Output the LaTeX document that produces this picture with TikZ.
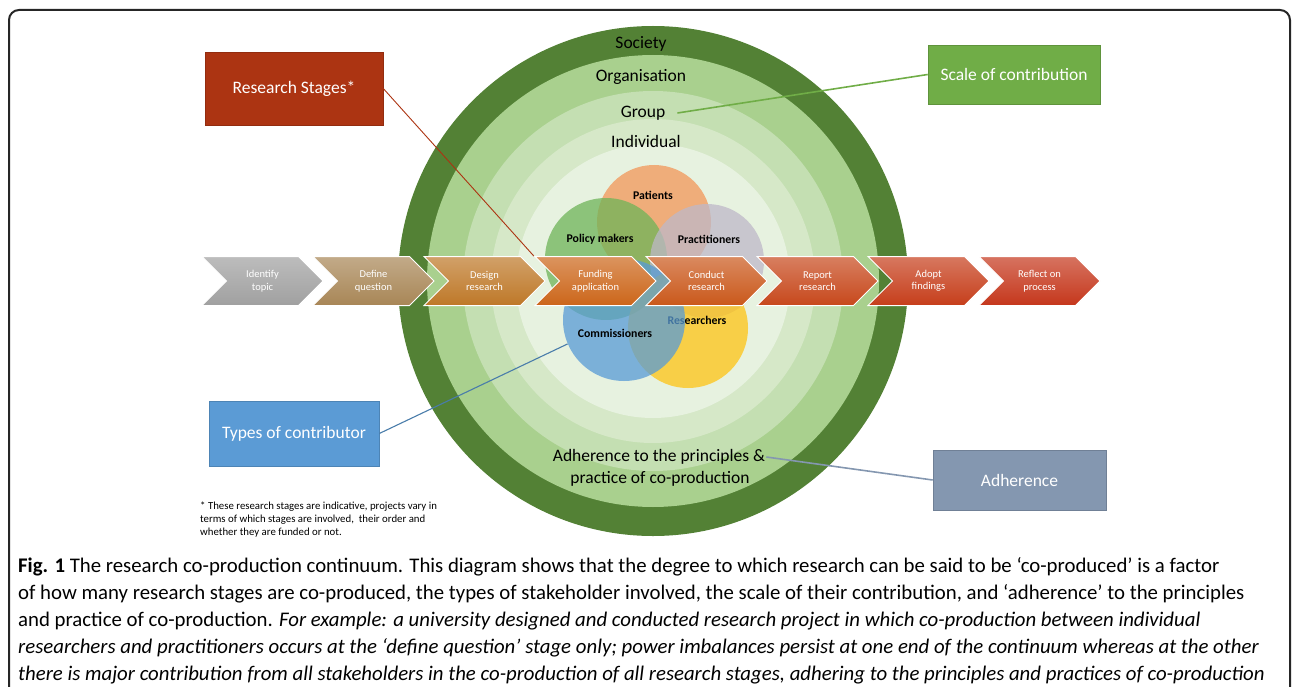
\documentclass[tikz,border=0pt]{standalone}
\usepackage{fontspec}
\setmainfont{Carlito}
\usetikzlibrary{shapes.symbols}

\definecolor{ringA}{RGB}{83,129,53}
\definecolor{ringB}{RGB}{169,208,142}
\definecolor{ringC}{RGB}{196,223,178}
\definecolor{ringD}{RGB}{214,232,200}
\definecolor{ringE}{RGB}{231,242,224}
\definecolor{stageA}{RGB}{160,160,160}
\definecolor{stageB}{RGB}{168,134,86}
\definecolor{stageC}{RGB}{190,120,40}
\definecolor{stageD}{RGB}{204,102,26}
\definecolor{stageE}{RGB}{202,88,27}
\definecolor{stageF}{RGB}{199,72,28}
\definecolor{stageG}{RGB}{198,62,27}
\definecolor{stageH}{RGB}{197,55,28}
\definecolor{patientcol}{RGB}{242,150,88}
\definecolor{policycol}{RGB}{110,180,88}
\definecolor{practcol}{RGB}{190,184,200}
\definecolor{commcol}{RGB}{88,155,214}
\definecolor{rescol}{RGB}{255,196,20}
\definecolor{stagesbox}{RGB}{172,52,18}
\definecolor{scalebox}{RGB}{112,173,71}
\definecolor{typesbox}{RGB}{91,155,213}
\definecolor{adherebox}{RGB}{132,151,176}

\tikzset{
  stage/.style={signal, signal from=west, signal to=east, draw=white, line width=1pt,
    minimum width=121pt, minimum height=49pt, inner sep=0pt, align=center, text=white,
    top color=#1!70!white, bottom color=#1, font=\fontsize{10.5}{12.5}\selectfont},
  party/.style={circle, inner sep=0pt, fill=#1, fill opacity=0.75},
  who/.style={font=\fontsize{11.8}{14}\selectfont\bfseries},
  level/.style={font=\fontsize{17.5}{21}\selectfont},
  tag/.style={fill=#1, draw=#1!85!black, line width=0.6pt, text=white,
    font=\fontsize{17.5}{21}\selectfont}
}

\begin{document}
\begin{tikzpicture}[x=1pt, y=-1pt]
  \useasboundingbox (0,0) rectangle (1292,687);
  \clip (0,0) rectangle (1292,687);
  \draw[line width=2pt, black!85, rounded corners=10pt] (9,10) rectangle (1290,720);

  % the scale rings
  \fill[ringA] (653,281) circle (255pt);
  \fill[ringB] (653,281) circle (226pt);
  \fill[ringC] (653,281) circle (190pt);
  \fill[ringD] (653,281) circle (162pt);
  \fill[ringE] (653,281) circle (137pt);
  \node[level] (society) at (641,44) {Society};
  \node[level] (organisation) at (641,77) {Organisation};
  \node[level, inner xsep=12pt] (group) at (643,113) {Group};
  \node[level] (individual) at (646,141) {Individual};
  \node[level, inner sep=1pt] (principles1) at (659,457) {Adherence to the principles \&};
  \node[level, inner sep=1pt] (principles2) at (660,479) {practice of co-production};

  % the contributors
  \node[party=patientcol, minimum size=114pt] (patients) at (654,222) {};
  \node[party=policycol, minimum size=122pt] (policy) at (606,259) {};
  \node[party=practcol, minimum size=114pt] (practitioners) at (707,261) {};
  \node[who] (lpatients) at (653,195) {Patients};
  \node[who] (lpolicy) at (600,239) {Policy makers};
  \node[who] (lpractitioners) at (709,239) {Practitioners};
  \node[party=rescol, minimum size=120pt] (researchers) at (688,328) {};
  \node[who] (lresearchers) at (697,320) {Researchers};
  \node[party=commcol, minimum size=122pt] (commissioners) at (624,320) {};
  \node[who] (lcommissioners) at (615,333) {Commissioners};

  % the research stages
  \node[stage=stageA] (topic) at (262.5,281) {Identify\\topic};
  \node[stage=stageB] (question) at (373.5,281) {Define\\question};
  \node[stage=stageC] (design) at (484.5,281) {Design\\research};
  \node[stage=stageD] (funding) at (595.5,281) {Funding\\application};
  \node[stage=stageE] (conduct) at (706.5,281) {Conduct\\research};
  \node[stage=stageF] (report) at (817.5,281) {Report\\research};
  \node[stage=stageG] (adopt) at (928.5,281) {Adopt\\findings};
  \node[stage=stageH] (reflect) at (1039.5,281) {Reflect on\\process};

  % the call-out boxes
  \node[tag=stagesbox, minimum width=178pt, minimum height=73pt] (stages) at (294,88.5) {Research Stages*};
  \node[tag=scalebox, minimum width=172pt, minimum height=59pt] (scale) at (1014,74.5) {Scale of contribution};
  \node[tag=typesbox, minimum width=170pt, minimum height=65pt] (types) at (294,433.5) {Types of contributor};
  \node[tag=adherebox, minimum width=173pt, minimum height=60pt] (adherence) at (1019.5,480) {Adherence};

  \draw[stagesbox, line width=0.9pt] (stages.east) -- (funding.north west);
  \draw[scalebox, line width=1.6pt] (scale.west) -- (group.east);
  \draw[typesbox!80!black, line width=1.1pt] (types.east) -- (commissioners.203);
  \draw[adherebox, line width=1.6pt] (adherence.west) -- (principles1.east);

  \node[anchor=north west, align=left, inner sep=0pt, font=\fontsize{10.8}{13}\selectfont] (note) at (200,502)
    {* These research stages are indicative, projects vary in\\
     terms of which stages are involved,\ \ their order and\\
     whether they are funded or not.};

  \node[anchor=north west, align=left, inner sep=0pt, font=\fontsize{20.8}{27}\selectfont] (caption) at (18,557)
    {\textbf{Fig. 1} The research co-production continuum. This diagram shows that the degree to which research can be said to be ‘co-produced’ is a factor\\
     of how many research stages are co-produced, the types of stakeholder involved, the scale of their contribution, and ‘adherence’ to the principles\\
     and practice of co-production. \textit{For example: a university designed and conducted research project in which co-production between individual}\\
     \textit{researchers and practitioners occurs at the ‘define question’ stage only; power imbalances persist at one end of the continuum whereas at the other}\\
     \textit{there is major contribution from all stakeholders in the co-production of all research stages, adhering to the principles and practices of co-production}};
\end{tikzpicture}
\end{document}
